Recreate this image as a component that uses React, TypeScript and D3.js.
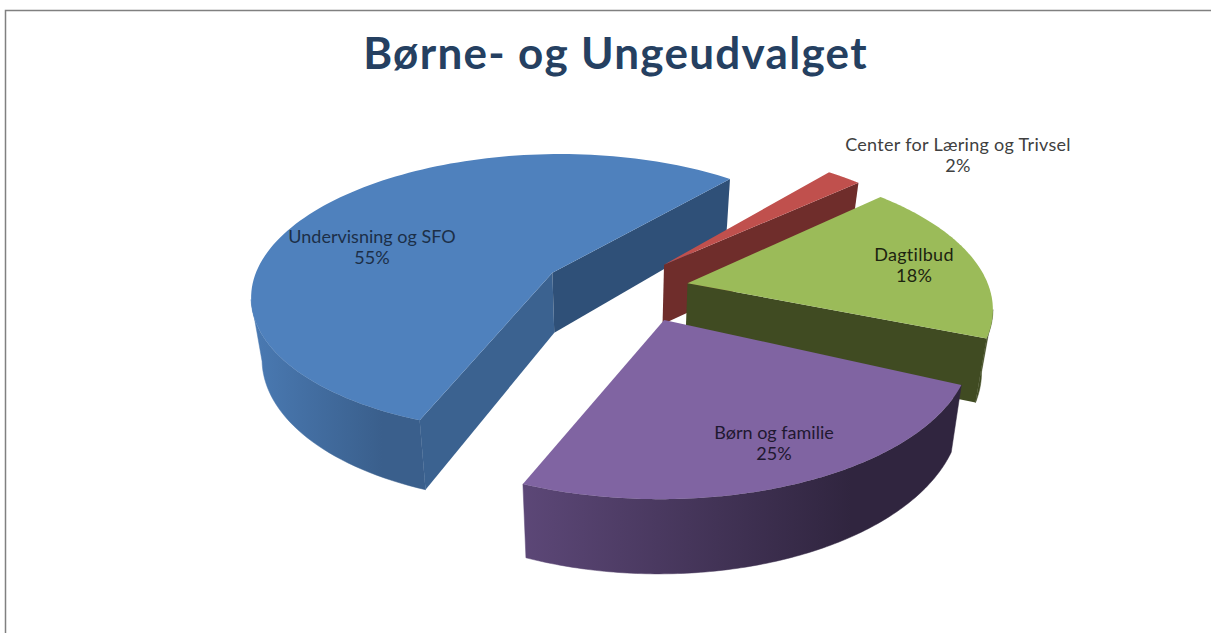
import React from 'react'
import * as d3 from 'd3'

const W = 1211
const H = 633

const title = 'Børne- og Ungeudvalget'
const categories = ['Center for Læring og Trivsel', 'Dagtilbud', 'Børn og familie', 'Undervisning og SFO']
const shares = [2.2, 18, 24.5, 55.3]
const topColors = ['#c0504d', '#9bbb59', '#8064a2', '#4f81bd']
const wallLight = ['#6f2d2b', '#404b22', '#5c4777', '#4a7ab3']
const wallDark = ['#6f2d2b', '#404b22', '#30253f', '#3a5f8c']
const cutColors = ['#6f2d2b', '#404b22', '#30253f', '#3b6290']
const backCutColors = ['#6f2d2b', '#404b22', '#30253f', '#2f5078']
const labelColors = ['#404040', '#1d2410', '#1f1830', '#1c2f48']
const labelAt = [[958, 151], [914, 261], [774, 439], [372, 243]]
const labelSpacing = [0.3, 0.3, 0, 0]
const drawOrder = [3, 0, 1, 2]
// hand nudges, the perspective fit is not exact for every slice
const sliceShiftX = [0, 1, 10, 1]
const sliceShiftY = [0, 0, -2, 1]
const apexShift = [0, 0, 10, 0]
const sliceTurn = [0, -0.8, 1, 0]

// view of the tilted pie, fitted by eye
const view = { cx: 614, cy: 289, r: 302, tilt: 0.468, persp: 0.15, depth: 61, shrink: 0.97, explode: 0.245 }
const firstAngle = (40 * Math.PI) / 180

type Pt = [number, number]

const lens = (y: number) => 1 / (1 - view.persp * y)
const top = (x: number, y: number): Pt => {
  const k = lens(y)
  return [view.cx + view.r * x * k, view.cy + view.r * view.tilt * y * k]
}
const bottom = (x: number, y: number): Pt => {
  const [sx, sy] = top(x, y)
  return [view.cx + (sx - view.cx) * view.shrink, sy + view.depth * lens(y)]
}

const line = d3.line<Pt>()
const closed = (pts: Pt[]) => line(pts) + 'Z'

const pie = d3.pie<number>().sort(null).startAngle(firstAngle).endAngle(firstAngle + 2 * Math.PI)
const arcs = pie(shares)

function Slice({ index }: { index: number }) {
  const a = arcs[index]
  const turn = (sliceTurn[index] * Math.PI) / 180
  const mid = (a.startAngle + a.endAngle) / 2
  const ox = view.explode * Math.sin(mid)
  const oy = -view.explode * Math.cos(mid)
  const angles = d3.range(0, 121).map((i) => a.startAngle + turn + ((a.endAngle - a.startAngle) * i) / 120)
  const plan: Pt[] = angles.map((t) => [ox + Math.sin(t), oy - Math.cos(t)])

  const shift = (p: Pt): Pt => [p[0] + sliceShiftX[index], p[1] + sliceShiftY[index]]
  const topArc = plan.map((p) => shift(top(p[0], p[1])))
  const botArc = plan.map((p) => shift(bottom(p[0], p[1])))
  const apexTop = shift(top(ox, oy))
  const apexBot = shift(bottom(ox, oy))
  apexTop[0] += apexShift[index]
  apexBot[0] += apexShift[index]

  // only edges running leftwards on screen face the viewer (clockwise outline)
  const visible = d3.range(0, plan.length - 1).filter((i) => topArc[i + 1][0] < topArc[i][0])
  const wall: Pt[] = visible.length
    ? [...visible.map((i) => topArc[i]), topArc[visible[visible.length - 1] + 1],
       botArc[visible[visible.length - 1] + 1], ...visible.map((i) => botArc[i]).reverse()]
    : []
  const xs = wall.map((p) => p[0])
  const gid = `wall-${index}`

  const endLast = topArc[topArc.length - 1]
  // outline runs apex > arc start ... arc end > apex
  const showStart = topArc[0][0] < apexTop[0]
  const showEnd = apexTop[0] < endLast[0]

  return (
    <g>
      <defs>
        <linearGradient id={gid} gradientUnits="userSpaceOnUse" x1={d3.min(xs)} x2={d3.max(xs)} y1={0} y2={0}>
          <stop offset="0" stopColor={wallLight[index]} />
          <stop offset="0.75" stopColor={wallDark[index]} />
          <stop offset="1" stopColor={wallDark[index]} />
        </linearGradient>
      </defs>
      {wall.length > 0 && <path d={closed(wall)} fill={`url(#${gid})`} stroke={`url(#${gid})`} strokeWidth={0.5} />}
      {showStart && (
        <path d={closed([apexTop, topArc[0], botArc[0], apexBot])} fill={cutColors[index]} />
      )}
      {showEnd && (
        <path d={closed([endLast, apexTop, apexBot, botArc[botArc.length - 1]])} fill={backCutColors[index]} />
      )}
      <path d={closed([apexTop, ...topArc])} fill={topColors[index]} />
    </g>
  )
}

export default function App() {
  return (
    <svg width={W} height={H} style={{ position: 'absolute', left: 0, top: 0, display: 'block', background: '#fff' }}>
      <path d={`M5.5,${H}V10.5H${W}`} fill="none" stroke="#808080" strokeWidth={1.5} />
      <text x={615.5} y={69} textAnchor="middle" fontFamily="Lato" fontWeight={700} fontSize={44} fill="#254061" letterSpacing={1.3}>
        {title}
      </text>
      {drawOrder.map((i) => <Slice key={categories[i]} index={i} />)}
      {drawOrder.map((i) => (
        <text key={categories[i]} textAnchor="middle" fontFamily="Lato" fontSize={18} fill={labelColors[i]} letterSpacing={labelSpacing[i]}>
          <tspan x={labelAt[i][0]} y={labelAt[i][1]}>{categories[i]}</tspan>
          <tspan x={labelAt[i][0]} y={labelAt[i][1] + 21}>{Math.round(shares[i])}%</tspan>
        </text>
      ))}
    </svg>
  )
}
